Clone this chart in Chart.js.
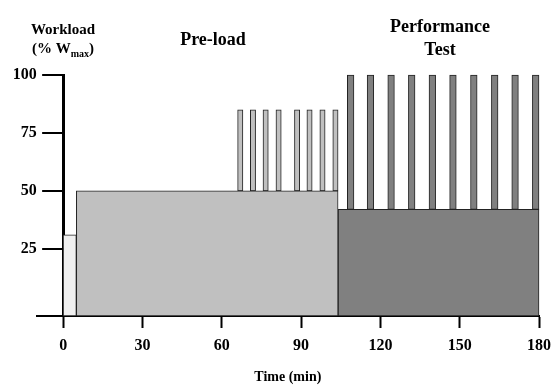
<!DOCTYPE html>
<html>
<head>
<meta charset="utf-8">
<script src="https://cdn.jsdelivr.net/npm/chart.js@4"></script>
<style>
body{margin:0;background:#fff}
</style>
</head>
<body>
<canvas id="chart1" width="559" height="387"></canvas>
<script>
var xTicks = [0, 30, 60, 90, 120, 150, 180];
var yTicks = [25, 50, 75, 100];

// warm-up, pre-load, performance test (min, % Wmax)
var phaseStart = [0, 5, 104];
var phaseEnd = [5, 104, 180];
var phaseLoad = [31, 50, 42];
var phaseColor = ['#f0f0f0', '#c0c0c0', '#808080'];

var preSprintStart = [66, 70.8, 75.6, 80.5, 87.5, 92.2, 97.1, 102];
var preSprintLoad = 85;
var preSprintLen = 2;

var testSprintStart = [107.5, 115, 122.8, 130.6, 138.4, 146.2, 154.1, 162, 169.7, 177.5];
var testSprintLoad = 100;
var testSprintLen = 2.5;

var yBottom = -4;

// bar width in px for a duration in minutes, taken from the x scale
function widthOf(len) {
  return function (c) {
    var x = c.chart.scales.x;
    return x.getPixelForValue(len) - x.getPixelForValue(0);
  };
}

var datasets = [];
for (var i = 0; i < phaseStart.length; i++) {
  datasets.push({
    data: [{x: (phaseStart[i] + phaseEnd[i]) / 2, y: [yBottom, phaseLoad[i]]}],
    barThickness: widthOf(phaseEnd[i] - phaseStart[i]),
    backgroundColor: phaseColor[i]
  });
}
datasets.push({
  data: preSprintStart.map(function (s) { return {x: s + preSprintLen / 2, y: [phaseLoad[1], preSprintLoad]}; }),
  barThickness: widthOf(preSprintLen),
  backgroundColor: phaseColor[1]
});
datasets.push({
  data: testSprintStart.map(function (s) { return {x: s + testSprintLen / 2, y: [phaseLoad[2], testSprintLoad]}; }),
  barThickness: widthOf(testSprintLen),
  backgroundColor: phaseColor[2]
});
datasets.forEach(function (d) {
  d.grouped = false;
  d.borderColor = '#222';
  d.borderWidth = 1;
  d.borderSkipped = false;
  d.clip = 5;
});

var serif = '"Liberation Serif", "DejaVu Serif", serif';

var textPlugin = {
  id: 'texts',
  afterDraw: function (chart) {
    var ctx = chart.ctx;
    ctx.save();

    // y tick marks, left of the axis line at time 0
    var y = chart.scales.y, x0px = chart.scales.x.getPixelForValue(0);
    ctx.strokeStyle = '#000';
    ctx.lineWidth = 2;
    yTicks.forEach(function (v) {
      var py = Math.round(y.getPixelForValue(v));
      ctx.beginPath();
      ctx.moveTo(x0px - 21, py);
      ctx.lineTo(x0px, py);
      ctx.stroke();
    });

    ctx.fillStyle = '#000';
    ctx.textBaseline = 'alphabetic';
    ctx.textAlign = 'center';
    ctx.font = 'bold 15px ' + serif;
    ctx.fillText('Workload', 63, 34);

    // (% Wmax)
    ctx.textAlign = 'left';
    var big = 'bold 15px ' + serif, small = 'bold 10px ' + serif;
    ctx.font = big; var w1 = ctx.measureText('(% W').width; var w3 = ctx.measureText(')').width;
    ctx.font = small; var w2 = ctx.measureText('max').width;
    var x0 = 63 - (w1 + w2 + w3) / 2;
    ctx.font = big; ctx.fillText('(% W', x0, 53);
    ctx.font = small; ctx.fillText('max', x0 + w1, 57);
    ctx.font = big; ctx.fillText(')', x0 + w1 + w2, 53);

    ctx.textAlign = 'center';
    ctx.font = 'bold 18px ' + serif;
    ctx.fillText('Pre-load', 213, 45);
    ctx.fillText('Performance', 440, 32);
    ctx.fillText('Test', 440, 55);
    ctx.restore();
  }
};

function setTicks(list) {
  return function (s) { s.ticks = list.map(function (v) { return {value: v}; }); };
}
var tickFont = {family: serif, size: 16, weight: 'bold'};

new Chart(document.getElementById('chart1').getContext('2d'), {
  type: 'bar',
  data: {datasets: datasets},
  plugins: [textPlugin],
  options: {
    responsive: false,
    animation: false,
    layout: {padding: {left: 0, right: 15.7, top: 75, bottom: 0}},
    plugins: {legend: {display: false}, tooltip: {enabled: false}},
    scales: {
      x: {
        type: 'linear', min: -10, max: 180, offset: false,
        afterBuildTicks: setTicks(xTicks),
        afterFit: function (s) { s.height = 71; },
        grid: {offset: false, drawOnChartArea: false, drawTicks: true, tickLength: 12, tickWidth: 2, tickColor: '#000'},
        border: {color: '#000', width: 2},
        ticks: {color: '#000', font: tickFont, padding: 8, maxRotation: 0},
        title: {display: true, text: 'Time (min)', color: '#000', font: {family: serif, size: 14, weight: 'bold'}, padding: {top: 0, bottom: 1}}
      },
      // axis line sitting at time 0
      y: {
        type: 'linear', min: yBottom, max: 100,
        position: {x: 0},
        afterBuildTicks: setTicks(yTicks),
        grid: {display: false},
        border: {color: '#000', width: 3},
        ticks: {display: false}
      },
      // tick labels on the left edge
      yLab: {
        type: 'linear', min: yBottom, max: 100, position: 'left',
        afterBuildTicks: setTicks(yTicks),
        afterFit: function (s) { s.width = 36.7; },
        grid: {display: false, drawTicks: false, tickLength: 0},
        border: {display: false},
        ticks: {color: '#000', font: tickFont, padding: 0}
      }
    }
  }
});
</script>
</body>
</html>
